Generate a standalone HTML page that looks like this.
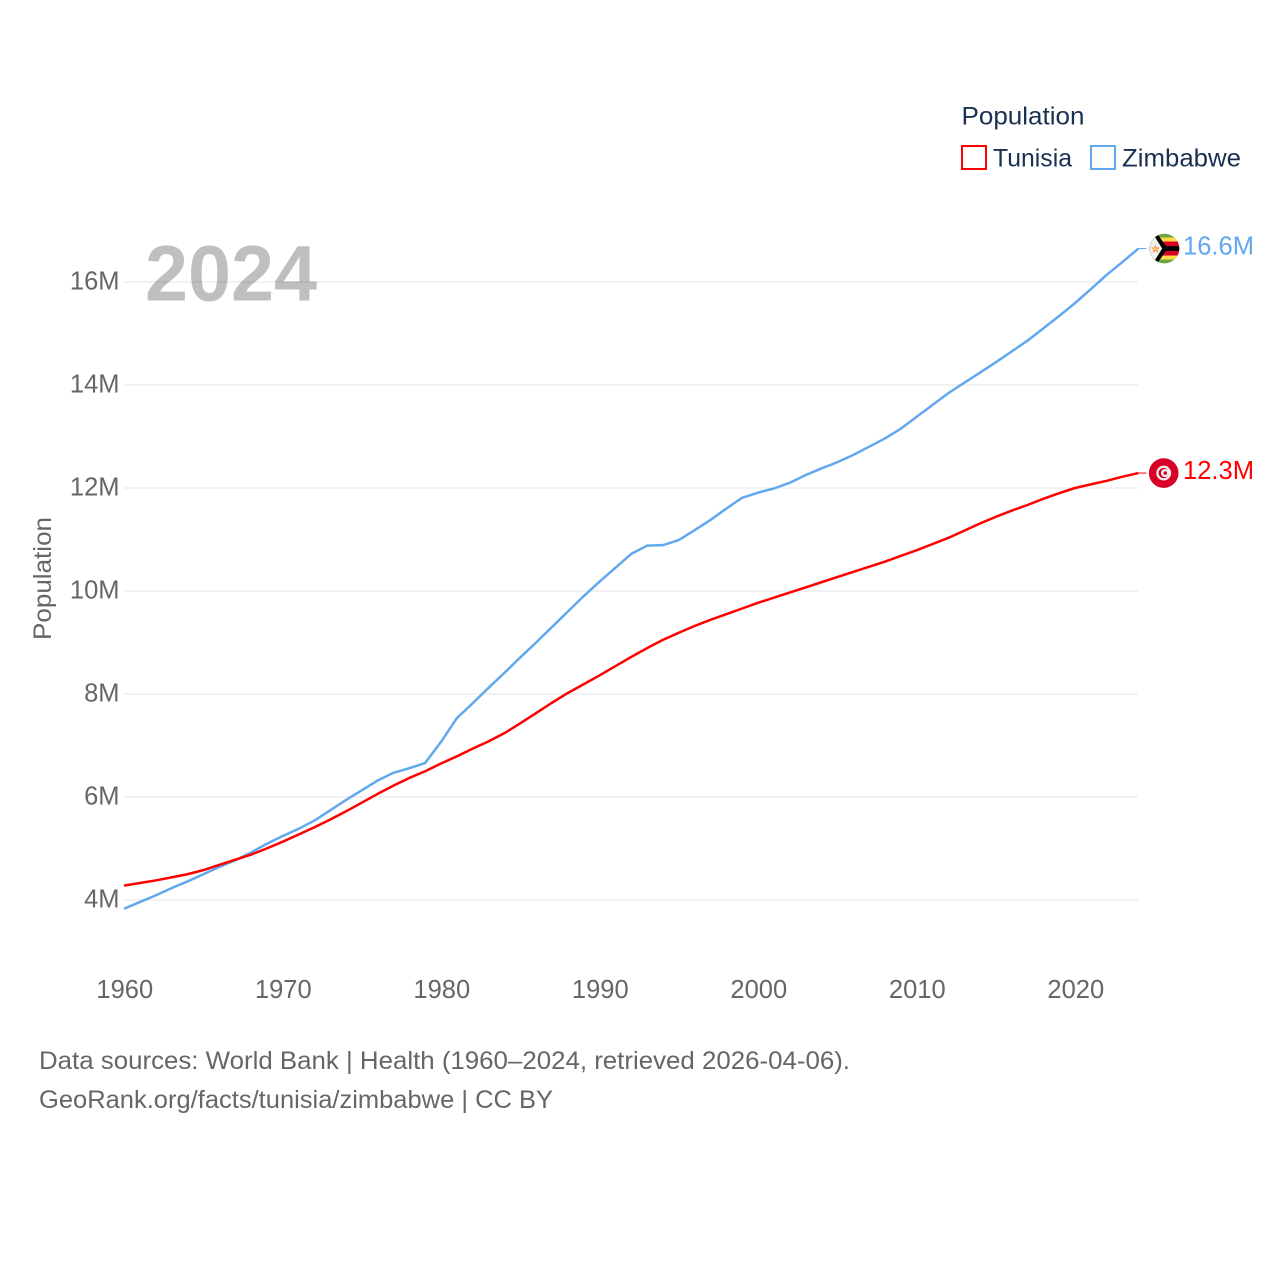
<!DOCTYPE html>
<html lang="en">
<head>
<meta charset="utf-8">
<title>Population: Tunisia and Zimbabwe</title>
<style>
html,body{margin:0;padding:0;background:#fff;width:1280px;height:1280px;overflow:hidden}
svg{display:block;font-family:"Liberation Sans",sans-serif}
</style>
</head>
<body>
<svg id="chart" width="1280" height="1280" viewBox="0 0 1280 1280" xmlns="http://www.w3.org/2000/svg">
  <defs>
    <clipPath id="zw-clip"><circle cx="0" cy="0" r="14.8"></circle></clipPath>
  </defs>
  <g id="grid"></g>
  <g id="y-ticks"></g>
  <g id="x-ticks"></g>
  <text id="year" x="145" y="300.7" font-size="79" font-weight="700" fill="#000000" fill-opacity="0.25" textLength="172" lengthAdjust="spacingAndGlyphs"></text>
  <text transform="translate(51 578.5) rotate(-90)" text-anchor="middle" font-size="25" fill="#666666" textLength="123" lengthAdjust="spacingAndGlyphs">Population</text>
  <g id="series"></g>

  <g id="flag-zimbabwe" clip-path="url(#zw-clip)">
    <rect x="-15" y="-15" width="30" height="30" fill="#6da544"></rect>
    <rect x="-15" y="-11" width="30" height="22" fill="#ffda44"></rect>
    <rect x="-15" y="-7" width="30" height="14" fill="#d80027"></rect>
    <rect x="-15" y="-2.4" width="30" height="4.8" fill="#000000"></rect>
    <polygon points="-15,-15 -7.3,-15 3,0 -7.3,15 -15,15" fill="#000000"></polygon>
    <polygon points="-15,-15 -11.7,-15 -2.3,0 -11.7,15 -15,15" fill="#f0f0f0"></polygon>
    <polygon points="-9,-4.2 -7.9,-1 -4.6,-1 -7.2,1 -6.3,4.2 -9,2.3 -11.7,4.2 -10.8,1 -13.4,-1 -10.1,-1" fill="#f7894a"></polygon>
    <circle cx="-9" cy="0.3" r="1.4" fill="#ffda44"></circle>
  </g>
  <g id="flag-tunisia">
    <circle cx="0" cy="0" r="14.8" fill="#d80027"></circle>
    <circle cx="0" cy="0" r="7.4" fill="#f0f0f0"></circle>
    <circle cx="0" cy="0" r="5.2" fill="#d80027"></circle>
    <circle cx="1.4" cy="0" r="4.1" fill="#f0f0f0"></circle>
    <circle cx="1.6" cy="0" r="1.8" fill="#d80027"></circle>
  </g>
  <text id="end-label-zimbabwe" x="1183" font-size="25.5" fill="#62a8ee" textLength="71" lengthAdjust="spacingAndGlyphs"></text>
  <text id="end-label-tunisia" x="1183" font-size="25.5" fill="#ff0000" textLength="71" lengthAdjust="spacingAndGlyphs"></text>

  <g>
    <text x="961.5" y="124.5" font-size="25" fill="#1a3050" textLength="123" lengthAdjust="spacingAndGlyphs">Population</text>
    <g>
      <rect x="962" y="146" width="24" height="23" fill="#ffffff" stroke="#ff0000" stroke-width="2"></rect>
      <text x="993" y="166.5" font-size="25" fill="#1a3050" textLength="79" lengthAdjust="spacingAndGlyphs">Tunisia</text>
    </g>
    <g>
      <rect x="1091" y="146" width="24" height="23" fill="#ffffff" stroke="#62a8ee" stroke-width="2"></rect>
      <text x="1122" y="166.5" font-size="25" fill="#1a3050" textLength="119" lengthAdjust="spacingAndGlyphs">Zimbabwe</text>
    </g>
  </g>

  <g>
    <text x="39" y="1069" font-size="25" fill="#666666" textLength="811" lengthAdjust="spacingAndGlyphs">Data sources: World Bank | Health (1960–2024, retrieved 2026-04-06).</text>
    <text x="39" y="1108" font-size="25" fill="#666666" textLength="514" lengthAdjust="spacingAndGlyphs">GeoRank.org/facts/tunisia/zimbabwe | CC BY</text>
  </g>
</svg>
<script>
const years = [1960,1961,1962,1963,1964,1965,1966,1967,1968,1969,1970,1971,1972,1973,1974,1975,1976,1977,1978,1979,1980,1981,1982,1983,1984,1985,1986,1987,1988,1989,1990,1991,1992,1993,1994,1995,1996,1997,1998,1999,2000,2001,2002,2003,2004,2005,2006,2007,2008,2009,2010,2011,2012,2013,2014,2015,2016,2017,2018,2019,2020,2021,2022,2023,2024];
const tunisia = [4.28,4.33,4.38,4.44,4.50,4.58,4.68,4.78,4.88,5.00,5.13,5.27,5.41,5.56,5.72,5.89,6.06,6.22,6.37,6.50,6.65,6.79,6.94,7.08,7.24,7.43,7.63,7.83,8.02,8.19,8.36,8.54,8.72,8.89,9.05,9.19,9.32,9.44,9.55,9.66,9.77,9.87,9.97,10.07,10.17,10.27,10.37,10.47,10.57,10.68,10.79,10.91,11.03,11.17,11.31,11.44,11.56,11.67,11.79,11.90,12.00,12.07,12.14,12.22,12.29];
const zimbabwe = [3.83,3.96,4.09,4.23,4.36,4.50,4.64,4.77,4.92,5.09,5.24,5.38,5.54,5.74,5.94,6.13,6.32,6.47,6.56,6.66,7.07,7.53,7.82,8.12,8.41,8.71,9.00,9.30,9.60,9.90,10.18,10.45,10.72,10.88,10.89,10.99,11.18,11.38,11.60,11.81,11.91,11.99,12.10,12.25,12.38,12.50,12.64,12.80,12.96,13.15,13.38,13.61,13.84,14.04,14.24,14.44,14.65,14.86,15.10,15.34,15.59,15.86,16.14,16.39,16.65];
const yTickValues = [4,6,8,10,12,14,16];
const xTickValues = [1960,1970,1980,1990,2000,2010,2020];

const NS = 'http://www.w3.org/2000/svg';
const xScale = function (year) { return 124 + (year - 1960) * (1138.4 - 124) / 64; };
const yScale = function (value) { return 900 - (value - 4) * 51.5; };
const formatMillions = function (value) { return value.toFixed(1) + 'M'; };

const grid = document.getElementById('grid');
const yTicks = document.getElementById('y-ticks');
const xTicks = document.getElementById('x-ticks');
const seriesGroup = document.getElementById('series');

yTickValues.forEach(function (tick) {
  const line = document.createElementNS(NS, 'line');
  
  
  line.setAttribute('x1', 124);
  line.setAttribute('x2', 1138);
  line.setAttribute('y1', yScale(tick));
  line.setAttribute('y2', yScale(tick));
  line.setAttribute('stroke', '#eeeeee');
  line.setAttribute('stroke-width', '1.6');
  grid.appendChild(line);

  const label = document.createElementNS(NS, 'text');
  
  
  label.setAttribute('x', 119.5);
  label.setAttribute('y', yScale(tick) + 7.5);
  label.setAttribute('text-anchor', 'end');
  label.setAttribute('font-size', '25.5');
  label.setAttribute('fill', '#666666');
  label.textContent = tick + 'M';
  yTicks.appendChild(label);
});

xTickValues.forEach(function (tick) {
  const label = document.createElementNS(NS, 'text');
  
  
  label.setAttribute('x', xScale(tick) + 0.8);
  label.setAttribute('y', 998);
  label.setAttribute('text-anchor', 'middle');
  label.setAttribute('font-size', '25.5');
  label.setAttribute('fill', '#666666');
  label.textContent = tick;
  xTicks.appendChild(label);
});

function drawSeries(values, color, name) {
  const points = values.map(function (value, i) {
    return xScale(years[i]).toFixed(2) + ',' + yScale(value).toFixed(2);
  }).join(' ');
  const line = document.createElementNS(NS, 'polyline');
  
  
  line.setAttribute('points', points);
  line.setAttribute('fill', 'none');
  line.setAttribute('stroke', color);
  line.setAttribute('stroke-width', '2.5');
  line.setAttribute('stroke-linejoin', 'round');
  seriesGroup.appendChild(line);

  const lastX = xScale(years[years.length - 1]);
  const lastY = yScale(values[values.length - 1]);
  const connector = document.createElementNS(NS, 'line');
  
  
  connector.setAttribute('x1', lastX);
  connector.setAttribute('x2', lastX + 8);
  connector.setAttribute('y1', lastY);
  connector.setAttribute('y2', lastY);
  connector.setAttribute('stroke', color);
  connector.setAttribute('stroke-width', '1');
  seriesGroup.appendChild(connector);
}

drawSeries(zimbabwe, '#62a8ee', 'zimbabwe-line');
drawSeries(tunisia, '#ff0000', 'tunisia-line');

function placeEnd(values, flagId, labelId, flagX) {
  const value = values[values.length - 1];
  const y = yScale(value);
  document.getElementById(flagId).setAttribute('transform', 'translate(' + flagX + ' ' + y + ')');
  const label = document.getElementById(labelId);
  label.setAttribute('y', y + 6);
  label.textContent = formatMillions(value);
}

placeEnd(zimbabwe, 'flag-zimbabwe', 'end-label-zimbabwe', 1164.5);
placeEnd(tunisia, 'flag-tunisia', 'end-label-tunisia', 1163.7);
document.getElementById('year').textContent = years[years.length - 1];
</script>
</body>
</html>
